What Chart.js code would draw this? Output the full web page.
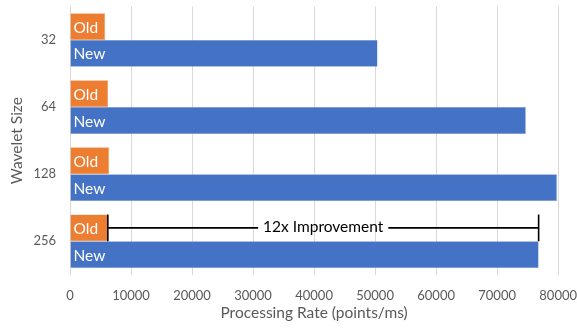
<!DOCTYPE html>
<html>
<head>
<meta charset="utf-8">
<script src="https://cdn.jsdelivr.net/npm/chart.js@4/dist/chart.umd.min.js"></script>
<style>
  html, body { margin: 0; padding: 0; background: #ffffff; }
  #wrap { width: 577px; height: 331px; position: relative; }
</style>
</head>
<body>
<div id="wrap"><canvas id="chart"></canvas></div>
<script>
// Wavelet sizes (categories) and processing rates in points/ms
const waveletSizes = ['32', '64', '128', '256'];
const oldRates = [5750, 6250, 6400, 6200];
const newRates = [50400, 74700, 79800, 76800];
const xTickValues = [0, 10000, 20000, 30000, 40000, 50000, 60000, 70000, 80000];
const seriesNames = ['Old', 'New'];
const improvementNote = '12x Improvement';
const improvementRow = 3; // the 256 row carries the bracket

const FONT = 'Lato, "Open Sans", sans-serif';

// Writes the series name inside each bar, next to its base
const barNamePlugin = {
  id: 'barNames',
  afterDatasetsDraw(chart) {
    const ctx = chart.ctx;
    ctx.save();
    ctx.fillStyle = '#ffffff';
    ctx.font = '15.5px ' + FONT;
    ctx.textAlign = 'left';
    ctx.textBaseline = 'middle';
    chart.data.datasets.forEach((ds, i) => {
      chart.getDatasetMeta(i).data.forEach(bar => {
        ctx.fillText(ds.label, bar.base + 3, bar.y + 1);
      });
    });
    ctx.restore();
  }
};

// Bracket spanning from the old rate to the new rate on one row
const bracketPlugin = {
  id: 'bracket',
  afterDatasetsDraw(chart) {
    const ctx = chart.ctx;
    const xs = chart.scales.x;
    const oldBar = chart.getDatasetMeta(0).data[improvementRow];
    const x0 = xs.getPixelForValue(oldRates[improvementRow]);
    const x1 = xs.getPixelForValue(newRates[improvementRow]);
    const yMid = oldBar.y;
    const top = oldBar.y - oldBar.height / 2;
    const bottom = oldBar.y + oldBar.height / 2;
    ctx.save();
    ctx.font = '15.5px ' + FONT;
    const tw = ctx.measureText(improvementNote).width;
    const cx = (x0 + x1) / 2;
    const gap = 5;
    ctx.strokeStyle = '#000000';
    ctx.lineWidth = 1.6;
    ctx.beginPath();
    ctx.moveTo(x0, top); ctx.lineTo(x0, bottom);
    ctx.moveTo(x1, top); ctx.lineTo(x1, bottom);
    ctx.moveTo(x0, yMid); ctx.lineTo(cx - tw / 2 - gap, yMid);
    ctx.moveTo(cx + tw / 2 + gap, yMid); ctx.lineTo(x1, yMid);
    ctx.stroke();
    ctx.fillStyle = '#000000';
    ctx.textAlign = 'center';
    ctx.textBaseline = 'middle';
    ctx.fillText(improvementNote, cx, yMid - 1);
    ctx.restore();
  }
};

new Chart(document.getElementById('chart'), {
  type: 'bar',
  data: {
    labels: waveletSizes,
    datasets: [
      {
        label: seriesNames[0],
        data: oldRates,
        backgroundColor: '#ED7D31',
        borderColor: '#F4A46B',
        borderWidth: 0.5,
        categoryPercentage: 0.8,
        barPercentage: 1.0
      },
      {
        label: seriesNames[1],
        data: newRates,
        backgroundColor: '#4472C4',
        borderColor: '#6F93D6',
        borderWidth: 0.5,
        categoryPercentage: 0.8,
        barPercentage: 1.0
      }
    ]
  },
  options: {
    indexAxis: 'y',
    responsive: true,
    maintainAspectRatio: false,
    animation: false,
    layout: { padding: { top: 0, right: 0, bottom: 7, left: 8 } },
    plugins: {
      legend: { display: false },
      tooltip: { enabled: false }
    },
    scales: {
      x: {
        min: 0,
        max: 80000,
        afterBuildTicks(axis) {
          axis.ticks = xTickValues.map(v => ({ value: v }));
        },
        grid: {
          color: '#d9d9d9',
          lineWidth: 1,
          drawTicks: true,
          tickLength: 13,
          tickColor: 'rgba(0,0,0,0)'
        },
        border: { display: false },
        ticks: {
          color: '#595959',
          font: { family: FONT, size: 13 },
          padding: 0,
          maxRotation: 0,
          callback: v => String(v)
        },
        title: {
          display: true,
          text: 'Processing Rate (points/ms)',
          color: '#595959',
          font: { family: FONT, size: 15.5 },
          padding: { top: 0, bottom: 2 }
        }
      },
      y: {
        afterFit(axis) { axis.width = 62; },
        grid: { display: false, drawTicks: true, tickLength: 14 },
        border: { display: false },
        ticks: {
          color: '#595959',
          font: { family: FONT, size: 13, lineHeight: 1 },
          padding: 0
        },
        title: {
          display: true,
          text: 'Wavelet Size',
          color: '#595959',
          font: { family: FONT, size: 15.5 },
          padding: { top: 0, bottom: 0 }
        }
      }
    }
  },
  plugins: [barNamePlugin, bracketPlugin]
});
</script>
</body>
</html>
